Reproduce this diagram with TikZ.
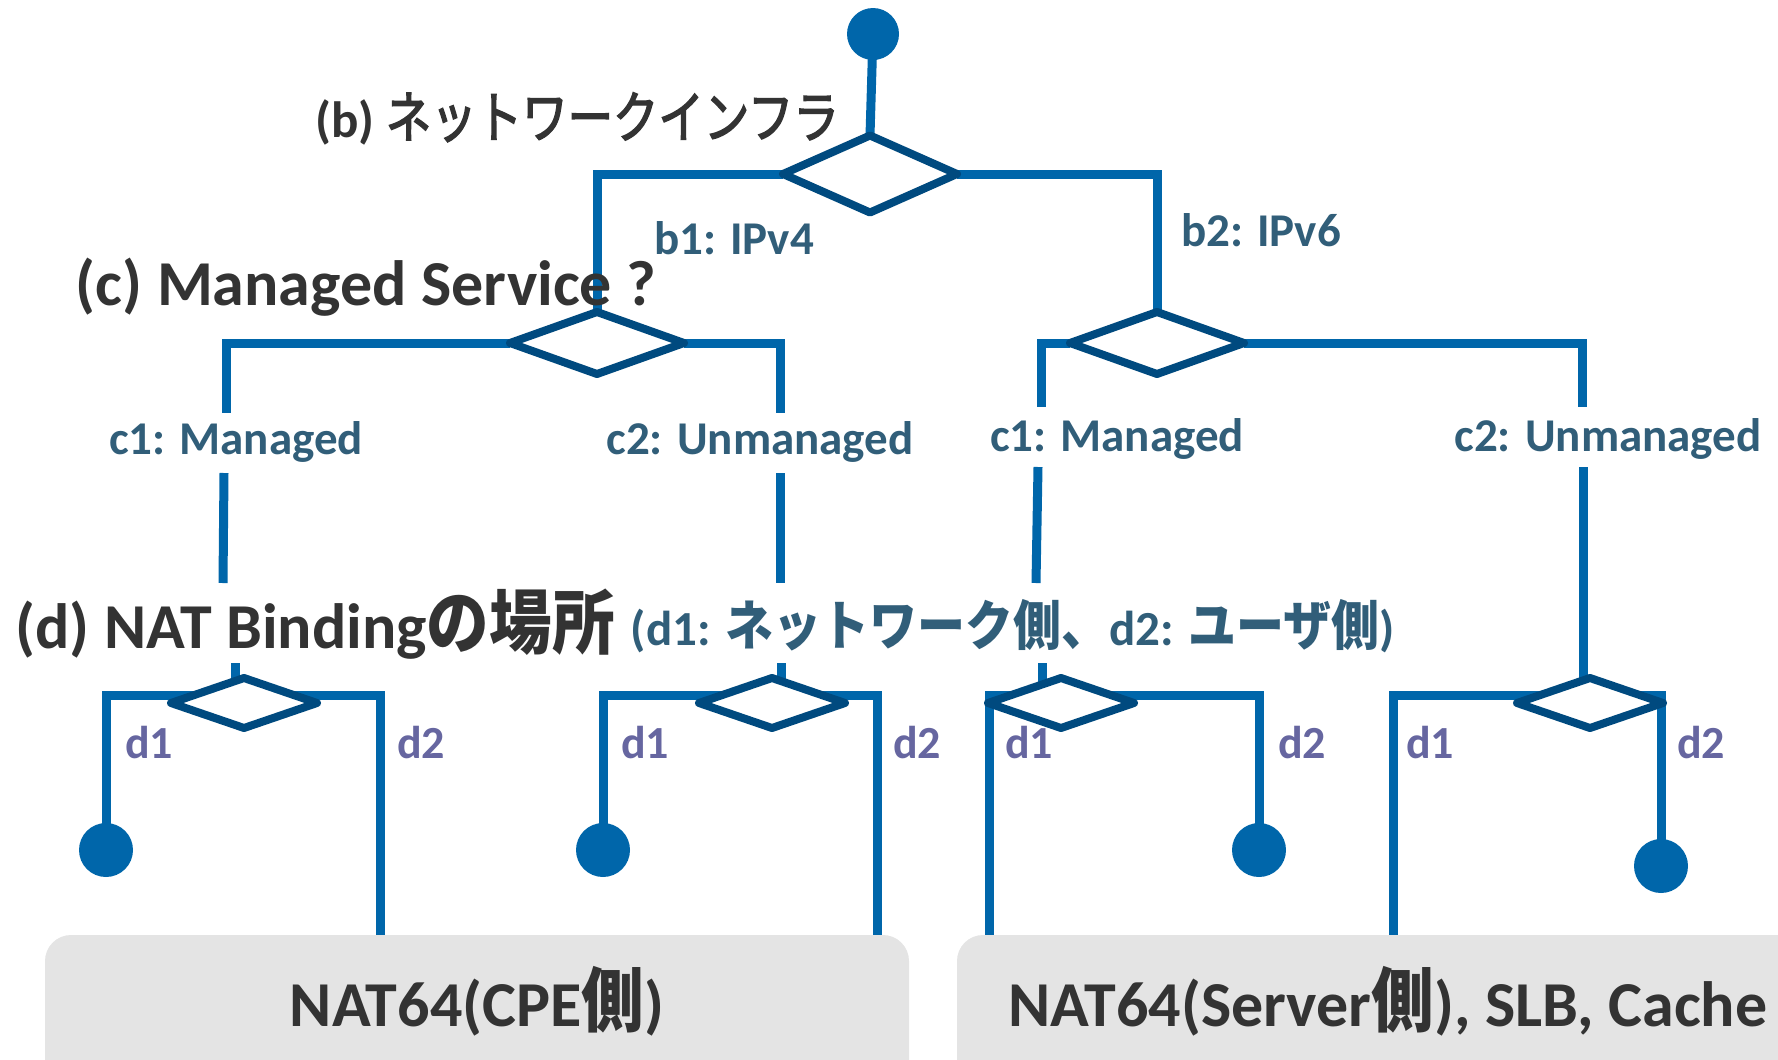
\documentclass[tikz,border=0pt]{standalone}
\usepackage{fontspec}
\setmainfont{Carlito}
\newfontfamily\jp[Scale=1.1,FakeStretch=0.89]{Noto Sans CJK JP}
\newfontfamily\jpm[Scale=1.1,FakeStretch=0.81,FakeBold=2.5]{Noto Sans CJK JP}
\newcommand\J[1]{{\jp #1}}
\usetikzlibrary{shapes.geometric,backgrounds}
\definecolor{linkblue}{RGB}{0,102,170}
\definecolor{diablue}{RGB}{0,74,127}
\definecolor{darktext}{RGB}{51,51,51}
\definecolor{labteal}{RGB}{49,94,121}
\definecolor{dpurple}{RGB}{102,102,160}
\definecolor{boxgray}{RGB}{228,228,228}

\begin{document}
\begin{tikzpicture}[x=1pt,y=-1pt,
  conn/.style={draw=linkblue, line width=9pt},
  dia/.style={diamond, draw=diablue, fill=white, line width=8pt, line join=round,
              inner sep=0pt, outer sep=0pt},
  dot/.style={circle, fill=linkblue, inner sep=0pt, minimum size=54pt},
  head/.style={text=darktext, font=\fontsize{64}{68}\selectfont\bfseries, inner sep=0pt},
  lab/.style={text=labteal, font=\fontsize{47}{50}\selectfont\bfseries, inner sep=0pt},
  dlab/.style={text=dpurple, font=\fontsize{46}{50}\selectfont\bfseries, inner sep=0pt},
  box/.style={fill=boxgray, rounded corners=26pt},
]
\useasboundingbox (0,0) rectangle (1778,1060);
\clip (0,0) rectangle (1778,1060);

% result boxes
\fill[box] (45,935) rectangle (909,1120);
\fill[box] (957,935) rectangle (1840,1120);
\node[head] (resL) at (477,1001) {NAT64(CPE\J{側})};
\node[head] (resR) at (1388,1001) {NAT64(Server\J{側}), SLB, Cache};

% decision diamonds
\node[dia, minimum width=174pt, minimum height=77pt] (db) at (870,174) {};
\node[dia, minimum width=174pt, minimum height=62pt] (dc1) at (597,343) {};
\node[dia, minimum width=174pt, minimum height=62pt] (dc2) at (1157,343) {};
\node[dia, minimum width=146pt, minimum height=50pt] (dd1) at (244,703) {};
\node[dia, minimum width=146pt, minimum height=50pt] (dd2) at (772,703) {};
\node[dia, minimum width=146pt, minimum height=50pt] (dd3) at (1061,703) {};
\node[dia, minimum width=146pt, minimum height=50pt] (dd4) at (1590,703) {};

% start and end points
\node[dot, minimum size=52pt] (root) at (873,34) {};
\node[dot] (end1) at (106,850) {};
\node[dot] (end2) at (603,850) {};
\node[dot] (end3) at (1259,850) {};
\node[dot] (end4) at (1661,866) {};

% question headings
\node[head, font=\fontsize{51}{54}\selectfont\bfseries] (qb) at (577,119) {(b) {\mdseries\jpm ネットワークインフラ}};
\node[head] (qc) at (366,287) {(c) Managed Service ?};
\node[head] (qd) at (315,624) {(d) NAT Binding\J{の場所}};
\node[lab, font=\fontsize{49}{52}\selectfont\bfseries] (qdnote) at (1013,626) {(d1: \J{ネットワーク側、}d2: \J{ユーザ側})};

% branch labels
\node[lab] (lb1) at (734,238) {b1: IPv4};
\node[lab] (lb2) at (1261,230) {b2: IPv6};
\node[lab] (lc1L) at (236,442) {c1: Managed};
\node[lab] (lc2L) at (760,442) {c2: Unmanaged};
\node[lab] (lc1R) at (1117,439) {c1: Managed};
\node[lab] (lc2R) at (1608,439) {c2: Unmanaged};
\node[dlab] (ld1a) at (149,743) {d1};
\node[dlab] (ld2a) at (421,743) {d2};
\node[dlab] (ld1b) at (645,743) {d1};
\node[dlab] (ld2b) at (917,743) {d2};
\node[dlab] (ld1c) at (1029,743) {d1};
\node[dlab] (ld2c) at (1302,743) {d2};
\node[dlab] (ld1d) at (1430,743) {d1};
\node[dlab] (ld2d) at (1701,743) {d2};

% gap ends of the vertical connectors
\coordinate (c1La) at (226,413); \coordinate (c1Lb) at (224,473); \coordinate (c1Lc) at (223,583);
\coordinate (c2La) at (780,413); \coordinate (c2Lb) at (780,473); \coordinate (c2Lc) at (780,583);
\coordinate (c1Ra) at (1041,407); \coordinate (c1Rb) at (1038,467); \coordinate (c1Rc) at (1036,583);
\coordinate (c2Ra) at (1582,407); \coordinate (c2Rb) at (1583,467); \coordinate (c2Rc) at (1583,695);
\coordinate (s1a) at (235,663); \coordinate (s1b) at (235,695);
\coordinate (s2a) at (781,663); \coordinate (s2b) at (781,695);
\coordinate (s3a) at (1042,663); \coordinate (s3b) at (1042,695);
% bars under the d diamonds
\coordinate (b1R) at (380,695); \coordinate (b1E) at (380,935);
\coordinate (b2R) at (877,695); \coordinate (b2E) at (877,935);
\coordinate (b3L) at (989,935); \coordinate (b3R) at (1259,695);
\coordinate (b4L) at (1393,935); \coordinate (b4R) at (1661,695);

\begin{pgfonlayer}{background}
  \draw[conn] (root.center) -- (db.north);
  \draw[conn] (db.west) -| (dc1.north);
  \draw[conn] (db.east) -| (dc2.north);

  \draw[conn] (dc1.west) -| (c1La);  \draw[conn] (c1Lb) -- (c1Lc);
  \draw[conn] (dc1.east) -| (c2La);  \draw[conn] (c2Lb) -- (c2Lc);
  \draw[conn] (dc2.west) -| (c1Ra);  \draw[conn] (c1Rb) -- (c1Rc);
  \draw[conn] (dc2.east) -| (c2Ra);  \draw[conn] (c2Rb) -- (c2Rc);

  \draw[conn] (s1a) -- (s1b);
  \draw[conn] (s2a) -- (s2b);
  \draw[conn] (s3a) -- (s3b);

  \draw[conn] (end1.center) |- (b1R) -- (b1E);
  \draw[conn] (end2.center) |- (b2R) -- (b2E);
  \draw[conn] (b3L) |- (b3R) -- (end3.center);
  \draw[conn] (b4L) |- (b4R) -- (end4.center);
\end{pgfonlayer}
\end{tikzpicture}
\end{document}
